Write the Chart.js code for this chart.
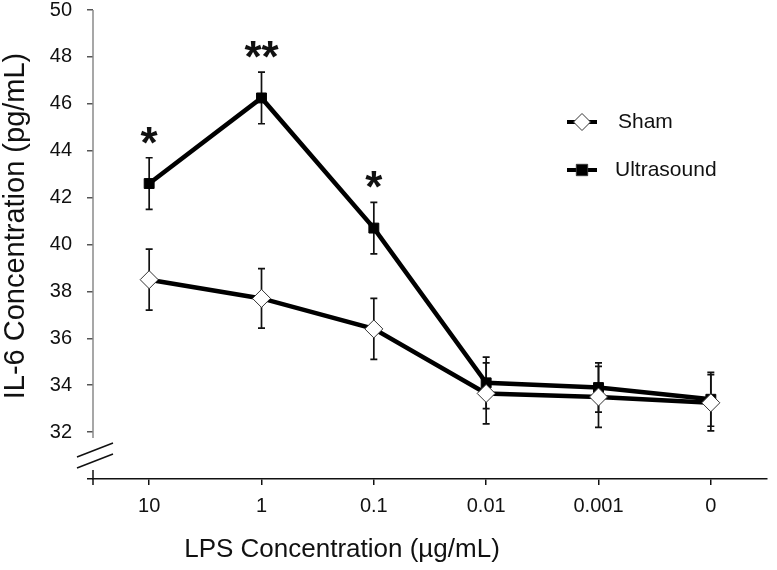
<!DOCTYPE html>
<html>
<head>
<meta charset="utf-8">
<script src="https://cdn.jsdelivr.net/npm/chart.js@4.4.1/dist/chart.umd.min.js"></script>
<style>
html, body { margin: 0; padding: 0; background: #fff; }
#wrap { width: 777px; height: 570px; position: relative; }
</style>
</head>
<body>
<div id="wrap"><canvas id="il6Chart" width="777" height="570"></canvas></div>
<script>
// data
const categories = ["10", "1", "0.1", "0.01", "0.001", "0"];
const shamMeans = [38.5, 37.7, 36.4, 33.65, 33.5, 33.25];
const shamErr = [1.3, 1.27, 1.3, 1.3, 1.3, 1.2];
const usMeans = [42.6, 46.25, 40.7, 34.1, 33.9, 33.4];
const usErr = [1.1, 1.1, 1.1, 1.1, 1.05, 1.15];
const significance = ["*", "**", "*", "", "", ""];
const yTicks = [32, 34, 36, 38, 40, 42, 44, 46, 48, 50];

const FONT = "'Liberation Sans', Arial, sans-serif";

// error bars behind the lines
const errorBars = {
  id: "errorBars",
  beforeDatasetsDraw(chart){
    const ctx = chart.ctx;
    const y = chart.scales.y;
    const errs = [shamErr, usErr];
    ctx.save();
    ctx.strokeStyle = "#111";
    ctx.lineWidth = 1.7;
    chart.data.datasets.forEach((ds, i) => {
      const meta = chart.getDatasetMeta(i);
      meta.data.forEach((pt, j) => {
        const top = y.getPixelForValue(ds.data[j] + errs[i][j]);
        const bot = y.getPixelForValue(ds.data[j] - errs[i][j]);
        ctx.beginPath();
        ctx.moveTo(pt.x, top); ctx.lineTo(pt.x, bot);
        ctx.moveTo(pt.x - 3.5, top); ctx.lineTo(pt.x + 3.5, top);
        ctx.moveTo(pt.x - 3.5, bot); ctx.lineTo(pt.x + 3.5, bot);
        ctx.stroke();
      });
    });
    ctx.restore();
  }
};

// axis line with break, stars, legend, titles
const decorations = {
  id: "decorations",
  afterDraw(chart){
    const ctx = chart.ctx;
    const y = chart.scales.y;
    const left = chart.chartArea.left;
    const bottom = chart.chartArea.bottom;
    ctx.save();

    // y axis (grey) down to the break
    ctx.strokeStyle = "#8a8a8a";
    ctx.lineWidth = 1.5;
    ctx.beginPath();
    ctx.moveTo(left, y.getPixelForValue(50));
    ctx.lineTo(left, y.getPixelForValue(31.75));
    ctx.stroke();

    // break marks
    ctx.strokeStyle = "#111";
    ctx.lineWidth = 1.5;
    ctx.beginPath();
    ctx.moveTo(left - 16, bottom - 22); ctx.lineTo(left + 20, bottom - 36);
    ctx.moveTo(left - 16, bottom - 11); ctx.lineTo(left + 20, bottom - 25);
    ctx.stroke();

    // short piece below break
    ctx.beginPath();
    ctx.moveTo(left, bottom - 9);
    ctx.lineTo(left, bottom + 6);
    ctx.stroke();

    // significance stars
    ctx.fillStyle = "#111";
    ctx.font = "bold 44px " + FONT;
    ctx.textAlign = "center";
    ctx.textBaseline = "alphabetic";
    const usMeta = chart.getDatasetMeta(1);
    significance.forEach((s, j) => {
      if(!s) return;
      const top = y.getPixelForValue(usMeans[j] + usErr[j]);
      ctx.fillText(s, usMeta.data[j].x, top);
    });

    // legend
    const items = [
      {label: "Sham", y: 122, style: "rectRot", r: 8.5, bg: "#fff", tx: 618},
      {label: "Ultrasound", y: 170, style: "rect", r: 8, bg: "#000", tx: 615}
    ];
    items.forEach(it => {
      ctx.strokeStyle = "#000";
      ctx.lineWidth = 4;
      ctx.beginPath();
      ctx.moveTo(567, it.y); ctx.lineTo(597, it.y);
      ctx.stroke();
      ctx.fillStyle = it.bg;
      ctx.strokeStyle = "#333";
      ctx.lineWidth = 1;
      Chart.helpers.drawPoint(ctx, {pointStyle: it.style, radius: it.r, borderWidth: 1}, 582, it.y);
      ctx.fillStyle = "#111";
      ctx.font = "21px " + FONT;
      ctx.textAlign = "left";
      ctx.textBaseline = "middle";
      ctx.fillText(it.label, it.tx, it.y);
    });

    // axis titles
    ctx.fillStyle = "#111";
    ctx.font = "26px " + FONT;
    ctx.textAlign = "center";
    ctx.textBaseline = "middle";
    ctx.fillText("LPS Concentration (\u00b5g/mL)", 342, 550);
    ctx.font = "29px " + FONT;
    ctx.translate(16, 226);
    ctx.rotate(-Math.PI / 2);
    ctx.fillText("IL-6 Concentration (pg/mL)", 0, 0);

    ctx.restore();
  }
};

new Chart(document.getElementById("il6Chart"), {
  type: "line",
  data: {
    labels: categories,
    datasets: [
      {
        label: "Sham",
        data: shamMeans,
        borderColor: "#000",
        borderWidth: 4.5,
        pointStyle: "rectRot",
        pointRadius: 9,
        pointBackgroundColor: "#fff",
        pointBorderColor: "#333",
        pointBorderWidth: 1
      },
      {
        label: "Ultrasound",
        data: usMeans,
        borderColor: "#000",
        borderWidth: 4.5,
        pointStyle: "rect",
        pointRadius: 7,
        pointBackgroundColor: "#000",
        pointBorderColor: "#000",
        pointBorderWidth: 1
      }
    ]
  },
  options: {
    responsive: false,
    animation: false,
    layout: { padding: { top: 7, right: 4, left: 0, bottom: 0 } },
    plugins: {
      legend: { display: false },
      tooltip: { enabled: false }
    },
    scales: {
      x: {
        offset: true,
        grid: { display: true, drawOnChartArea: false, offset: false, tickLength: 6, color: "#111", lineWidth: 1.5 },
        border: { display: true, color: "#111", width: 1.5 },
        ticks: { color: "#111", font: { family: FONT, size: 20 }, padding: 9, maxRotation: 0 },
        afterFit(scale){ scale.height = 91; scale.paddingLeft = 0; scale.paddingRight = 0; }
      },
      y: {
        min: 30,
        max: 50,
        afterBuildTicks(scale){
          scale.ticks = [30].concat(yTicks).map(v => ({ value: v }));
        },
        grid: {
          drawOnChartArea: false,
          tickLength: 6,
          lineWidth: 1.5,
          color: c => c.tick && c.tick.value === 30 ? "#111" : "#555"
        },
        border: { display: false },
        ticks: {
          color: "#111",
          padding: 15,
          font: { family: FONT, size: 20 },
          callback: v => v === 30 ? "" : String(v)
        },
        afterFit(scale){ scale.width = 93; scale.paddingTop = 0; scale.paddingBottom = 0; }
      }
    }
  },
  plugins: [errorBars, decorations]
});
</script>
</body>
</html>
